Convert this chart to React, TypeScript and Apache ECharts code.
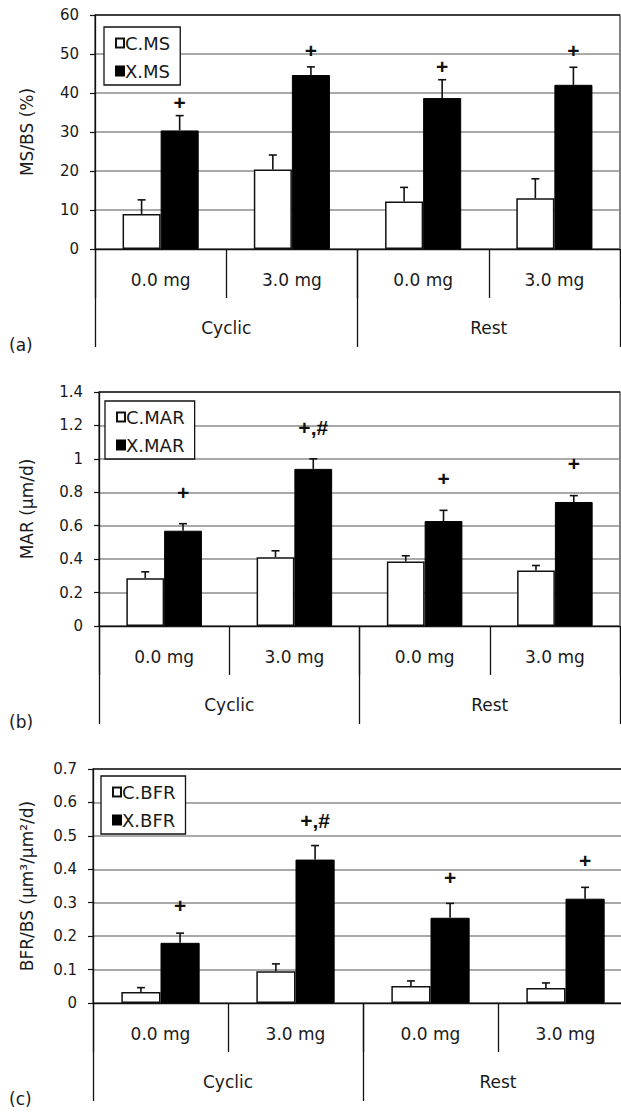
import React, { useEffect, useRef } from "react";
import * as echarts from "echarts";

// ---------- data ----------
const doses = ["0.0 mg", "3.0 mg", "0.0 mg", "3.0 mg"];
const groups = ["Cyclic", "Rest"];

// (a) MS/BS (%)
const msControl = [9.0, 20.4, 12.2, 13.0];
const msControlErr = [3.6, 3.7, 3.6, 5.0];
const msExercise = [30.4, 44.6, 38.7, 42.1];
const msExerciseErr = [3.8, 2.1, 4.7, 4.5];
const msMarks = ["+", "+", "+", "+"];
const msMarkY = [37.5, 50.8, 46.9, 50.9];

// (b) MAR (um/d)
const marControl = [0.286, 0.412, 0.386, 0.332];
const marControlErr = [0.038, 0.038, 0.034, 0.03];
const marExercise = [0.57, 0.94, 0.628, 0.742];
const marExerciseErr = [0.042, 0.06, 0.064, 0.038];
const marMarks = ["+", "+,#", "+", "+"];
const marMarkY = [0.8, 1.19, 0.88, 0.972];

// (c) BFR/BS
const bfrControl = [0.033, 0.095, 0.051, 0.045];
const bfrControlErr = [0.013, 0.022, 0.015, 0.015];
const bfrExercise = [0.18, 0.429, 0.255, 0.312];
const bfrExerciseErr = [0.029, 0.042, 0.043, 0.034];
const bfrMarks = ["+", "+,#", "+", "+"];
const bfrMarkY = [0.291, 0.545, 0.376, 0.426];

// ---------- layout / style ----------
const FONT = "DejaVu Sans, Liberation Sans, Arial, sans-serif";
const MARK_FONT = "Liberation Sans, Arial, Helvetica, sans-serif";
const INK = "#1a1a1a";
const BAR_FRAC = 0.29;
const PLOT_H = 234;

const panels = [
  {
    yName: "MS/BS (%)", max: 60, interval: 10,
    c: msControl, ce: msControlErr, x: msExercise, xe: msExerciseErr,
    marks: msMarks, markY: msMarkY, cName: "C.MS", xName: "X.MS", letter: "(a)",
    left: 95, top: 15, width: 525, legendLeft: 104, legendTop: 27, nameGap: 60,
  },
  {
    yName: "MAR (μm/d)", max: 1.4, interval: 0.2,
    c: marControl, ce: marControlErr, x: marExercise, xe: marExerciseErr,
    marks: marMarks, markY: marMarkY, cName: "C.MAR", xName: "X.MAR", letter: "(b)",
    left: 99, top: 392, width: 521, legendLeft: 105, legendTop: 401, nameGap: 64,
  },
  {
    yName: "BFR/BS (μm³/μm²/d)", max: 0.7, interval: 0.1,
    c: bfrControl, ce: bfrControlErr, x: bfrExercise, xe: bfrExerciseErr,
    marks: bfrMarks, markY: bfrMarkY, cName: "C.BFR", xName: "X.BFR", letter: "(c)",
    left: 93, top: 769, width: 540, legendLeft: 101, legendTop: 776, nameGap: 58,
  },
];

const catKeys = doses.map((d, i) => `${groups[Math.floor(i / 2)]} ${d}`);

function errorRenderer(side: number) {
  return (params: any, api: any) => {
    const i = api.value(0);
    const v = api.value(1);
    const e = api.value(2);
    const base = api.coord([i, v]);
    const top = api.coord([i, v + e]);
    const bw = api.size([1, 0])[0];
    const x = base[0] + (side * bw * BAR_FRAC) / 2;
    const cap = 4;
    const st = { stroke: "#111", lineWidth: 1.6 };
    return {
      type: "group",
      children: [
        { type: "line", shape: { x1: x, y1: base[1], x2: x, y2: top[1] }, style: st },
        { type: "line", shape: { x1: x - cap, y1: top[1], x2: x + cap, y2: top[1] }, style: st },
      ],
    };
  };
}

function buildOption() {
  const grid: any[] = [];
  const xAxis: any[] = [];
  const yAxis: any[] = [];
  const series: any[] = [];
  const legend: any[] = [];
  const graphic: any[] = [];

  panels.forEach((p, k) => {
    grid.push({
      left: p.left, top: p.top, width: p.width, height: PLOT_H,
      show: true, borderColor: "#333", borderWidth: 1.2, backgroundColor: "transparent",
    });
    const nLines = Math.round(p.max / p.interval) + 1;
    yAxis.push({
      gridIndex: k, type: "value", min: 0, max: p.max, interval: p.interval,
      name: p.yName, nameLocation: "middle", nameRotate: 90, nameGap: p.nameGap,
      nameTextStyle: { fontSize: 17, color: INK, fontFamily: FONT },
      axisLine: { show: true, lineStyle: { color: "#111", width: 1.3 } },
      axisTick: { show: true, length: 5, lineStyle: { color: "#111", width: 1.2 } },
      axisLabel: { fontSize: 15, color: INK, margin: 16, fontFamily: FONT },
      splitLine: {
        show: true,
        lineStyle: {
          color: Array.from({ length: nLines }, (_, j) => (j === nLines - 1 ? "#222" : "#8c8c8c")),
          width: 1.5,
        },
      },
    });
    xAxis.push({
      gridIndex: k, type: "category", data: catKeys, position: "bottom",
      axisLine: { show: true, lineStyle: { color: "#111", width: 1.4 } },
      axisTick: { show: true, interval: 0, length: 49, lineStyle: { color: "#111", width: 1.3 } },
      axisLabel: {
        interval: 0, margin: 22, fontSize: 17, color: INK, fontFamily: FONT,
        formatter: (_v: string, idx: number) => doses[idx],
      },
      splitLine: { show: false },
    });
    xAxis.push({
      gridIndex: k, type: "category", data: groups, position: "bottom",
      axisLine: { show: false },
      axisTick: { show: true, interval: 0, length: 98, lineStyle: { color: "#111", width: 1.3 } },
      axisLabel: { interval: 0, margin: 70, fontSize: 17, color: INK, fontFamily: FONT },
      splitLine: { show: false },
    });
    const xi = k * 2;
    series.push({
      type: "bar", name: p.cName, xAxisIndex: xi, yAxisIndex: k, data: p.c,
      barWidth: `${BAR_FRAC * 100}%`, barGap: "0%",
      itemStyle: { color: "#ffffff", borderColor: "#111", borderWidth: 1.5 },
    });
    series.push({
      type: "bar", name: p.xName, xAxisIndex: xi, yAxisIndex: k, data: p.x,
      barWidth: `${BAR_FRAC * 100}%`, barGap: "0%",
      itemStyle: { color: "#000000", borderColor: "#000", borderWidth: 1 },
    });
    series.push({
      type: "custom", xAxisIndex: xi, yAxisIndex: k, z: 5,
      data: p.c.map((v, i) => [i, v, p.ce[i]]),
      encode: { x: 0, y: 1 },
      renderItem: errorRenderer(-1),
    });
    series.push({
      type: "custom", xAxisIndex: xi, yAxisIndex: k, z: 5,
      data: p.x.map((v, i) => [i, v, p.xe[i]]),
      encode: { x: 0, y: 1 },
      renderItem: errorRenderer(1),
    });
    series.push({
      type: "custom", xAxisIndex: xi, yAxisIndex: k, z: 6,
      data: p.markY.map((v, i) => [i, v]),
      encode: { x: 0, y: 1 },
      renderItem: (params: any, api: any) => {
        const pt = api.coord([api.value(0), api.value(1)]);
        const bw = api.size([1, 0])[0];
        return {
          type: "text",
          x: pt[0] + (bw * BAR_FRAC) / 2,
          y: pt[1],
          style: {
            text: p.marks[params.dataIndex], fontSize: 21, fontWeight: "bold",
            fill: "#111", align: "center", verticalAlign: "middle", fontFamily: MARK_FONT,
          },
        };
      },
    });
    legend.push({
      data: [p.cName, p.xName], orient: "vertical", left: p.legendLeft, top: p.legendTop,
      backgroundColor: "#fff", borderColor: "#111", borderWidth: 1.3,
      padding: [7, 10, 5, 11], itemGap: 10, itemWidth: 8, itemHeight: 9, icon: "rect",
      textStyle: { fontSize: 18, color: INK, fontFamily: FONT, padding: [0, 0, 0, -4] },
      selectedMode: false,
    });
    graphic.push({
      type: "text", left: 9, top: p.top + PLOT_H + 87,
      style: { text: p.letter, fontSize: 17, fill: INK, fontFamily: FONT },
    });
  });

  return {
    animation: false,
    textStyle: { fontFamily: FONT },
    grid, xAxis, yAxis, series, legend, graphic,
  };
}

export default function App() {
  const ref = useRef<HTMLDivElement>(null);
  useEffect(() => {
    if (!ref.current) return;
    const chart = echarts.init(ref.current, undefined, { renderer: "svg" });
    chart.setOption(buildOption() as any);
    return () => chart.dispose();
  }, []);
  return (
    <div style={{ position: "fixed", left: 0, top: 0, width: 621, height: 1113, overflow: "hidden", background: "#fff" }}>
      <div ref={ref} style={{ width: 640, height: 1113 }} />
    </div>
  );
}
